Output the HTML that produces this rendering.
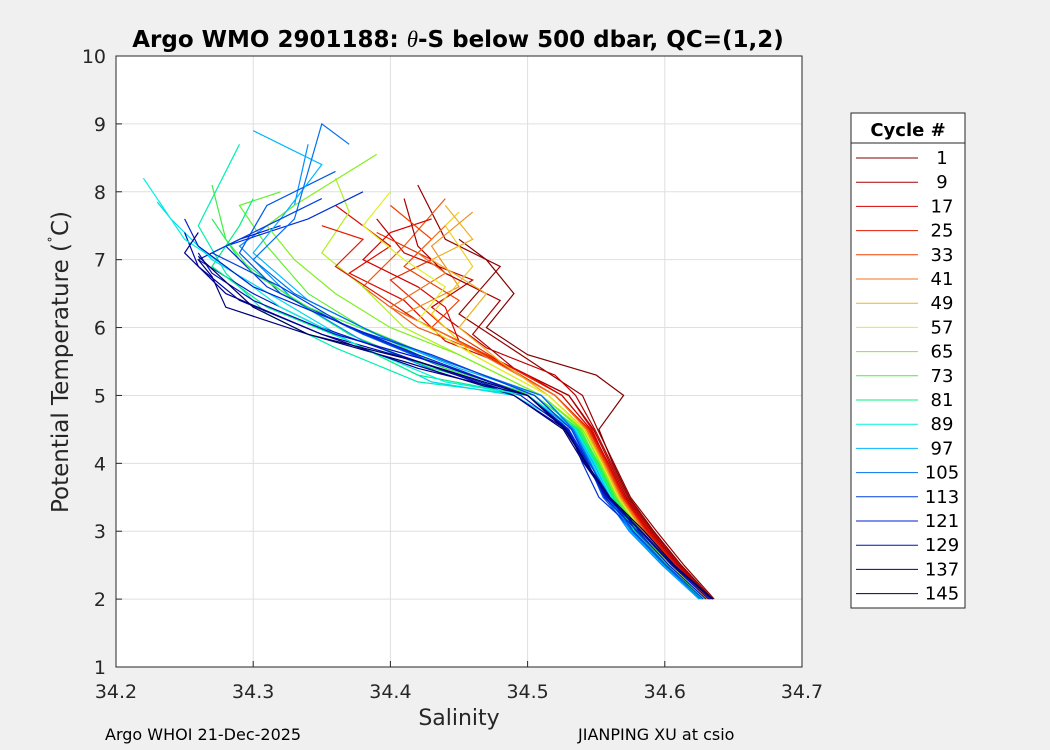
<!DOCTYPE html>
<html><head><meta charset="utf-8"><style>
body{margin:0;background:#f0f0f0;font-family:"Liberation Sans","DejaVu Sans",sans-serif;}
svg{display:block}
</style></head><body>
<svg id="chart" width="1050" height="750" font-family="DejaVu Sans, Liberation Sans, sans-serif">
<rect x="0" y="0" width="1050" height="750" fill="#f0f0f0"/>
<rect x="116" y="56" width="686" height="611" fill="#fff"/>
<g id="grid"></g>
<g id="lines"></g>
<rect x="116" y="56" width="686" height="611" fill="none" stroke="#262626" stroke-width="1"/>
<g id="ticks"></g>
<text x="458" y="47" text-anchor="middle" font-size="23" font-weight="bold" fill="#000">Argo WMO 2901188: <tspan font-style="italic" font-weight="normal" font-family="Liberation Serif, serif">θ</tspan>-S below 500 dbar,  QC=(1,2)</text>
<text x="459" y="725" text-anchor="middle" font-size="22" fill="#262626">Salinity</text>
<text transform="translate(68,362) rotate(-90)" text-anchor="middle" font-size="23" fill="#262626">Potential Temperature (<tspan dy="-8" font-size="14">˚</tspan><tspan dy="8">C)</tspan></text>
<text x="105" y="740" font-size="16" fill="#000">Argo WHOI 21-Dec-2025</text>
<text x="578" y="740" font-size="16" fill="#000">JIANPING XU at csio</text>
<g id="legend">
<rect x="851" y="113" width="114" height="495" fill="#fff" stroke="#262626"/>
<line x1="851" y1="143" x2="965" y2="143" stroke="#262626"/>
<text x="908" y="136" text-anchor="middle" font-size="18" font-weight="bold">Cycle #</text>
</g>
</svg>
<script>
const cycles=[1,9,17,25,33,41,49,57,65,73,81,89,97,105,113,121,129,137,145];
const colors=["#800000","#a80000","#d40000","#e01a00","#f04000","#f07020","#f0b020","#e0f020","#80f020","#40f040","#00f080","#00f0e0","#00b8ff","#0070f0","#0040e0","#0020d0","#0010c0","#00008c","#000060"];
const deepT=[2.0,2.5,3.0,3.5,4.0,4.5,5.0];
const deepS=[
[34.635,34.612,34.592,34.574,34.562,34.552,34.57],
[34.633,34.610,34.590,34.572,34.560,34.548,34.53],
[34.633,34.609,34.588,34.571,34.559,34.546,34.525],
[34.632,34.608,34.587,34.570,34.558,34.545,34.52],
[34.632,34.607,34.586,34.569,34.557,34.544,34.52],
[34.631,34.606,34.585,34.568,34.556,34.543,34.52],
[34.630,34.605,34.584,34.567,34.555,34.542,34.515],
[34.630,34.604,34.583,34.566,34.554,34.541,34.515],
[34.629,34.603,34.582,34.565,34.553,34.540,34.51],
[34.628,34.602,34.580,34.564,34.552,34.538,34.505],
[34.627,34.601,34.578,34.562,34.550,34.536,34.50],
[34.626,34.600,34.576,34.561,34.549,34.535,34.50],
[34.625,34.599,34.575,34.560,34.548,34.534,34.51],
[34.626,34.600,34.576,34.558,34.546,34.533,34.51],
[34.628,34.601,34.577,34.560,34.545,34.532,34.505],
[34.630,34.603,34.580,34.556,34.544,34.530,34.50],
[34.632,34.605,34.582,34.558,34.543,34.529,34.50],
[34.634,34.606,34.583,34.559,34.542,34.528,34.50],
[34.635,34.607,34.585,34.560,34.543,34.527,34.50]];
const upper=[
[[34.55,5.3],[34.5,5.6],[34.47,6.0],[34.49,6.5],[34.47,7.0],[34.45,7.3]],
[[34.49,5.4],[34.46,5.9],[34.48,6.4],[34.44,6.8],[34.42,7.2],[34.41,7.9]],
[[34.5,5.3],[34.45,5.8],[34.44,6.3],[34.42,6.6],[34.38,7.0],[34.40,7.4],[34.43,7.6]],
[[34.46,5.7],[34.42,6.1],[34.39,6.5],[34.36,6.9],[34.38,7.3],[34.35,7.5]],
[[34.47,5.6],[34.43,6.0],[34.45,6.4],[34.41,6.9],[34.43,7.3],[34.40,7.8]],
[[34.44,5.9],[34.40,6.3],[34.44,6.8],[34.42,7.1],[34.44,7.5]],
[[34.48,5.5],[34.45,6.0],[34.47,6.5],[34.43,7.0],[34.46,7.3],[34.44,7.8]],
[[34.46,5.6],[34.42,6.1],[34.44,6.6],[34.41,7.0],[34.38,7.5],[34.40,8.0]],
[[34.45,5.6],[34.40,6.0],[34.36,6.5],[34.33,7.0],[34.31,7.5],[34.33,7.8],[34.39,8.55]],
[[34.44,5.4],[34.39,5.9],[34.34,6.3],[34.30,6.8],[34.28,7.3],[34.27,8.1]],
[[34.42,5.3],[34.37,5.8],[34.31,6.3],[34.27,6.9],[34.29,7.5],[34.30,7.9]],
[[34.44,5.2],[34.38,5.7],[34.32,6.3],[34.28,6.9],[34.25,7.3],[34.22,8.2]],
[[34.45,5.4],[34.40,5.8],[34.34,6.4],[34.30,7.1],[34.32,7.6],[34.35,8.4],[34.30,8.9]],
[[34.44,5.5],[34.39,5.9],[34.33,6.5],[34.30,7.0],[34.33,7.6],[34.35,9.0],[34.37,8.7]],
[[34.43,5.6],[34.37,6.0],[34.32,6.6],[34.27,7.1],[34.30,7.4],[34.35,7.9]],
[[34.42,5.6],[34.36,6.1],[34.30,6.6],[34.26,7.2],[34.25,7.6]],
[[34.43,5.5],[34.36,5.9],[34.30,6.4],[34.27,6.8],[34.26,7.1]],
[[34.42,5.4],[34.35,5.9],[34.28,6.5],[34.25,7.1],[34.26,7.4]],
[[34.42,5.5],[34.34,5.9],[34.30,6.3],[34.26,7.05]]];
const cycles2=[5,13,21,29,37,45,53,61,69,77,85,93,101,109,117,125,133,141];
const colors2=["#940000","#c00000","#dc0c00","#e82e00","#f05810","#f09020","#ecd020","#b0f020","#60f030","#20f060","#00f0b0","#00d8f0","#0090ff","#0058e8","#0030d8","#0018c8","#0008a8","#000078"];
const deepS2=[
[34.636,34.614,34.594,34.575,34.563,34.551,34.54],
[34.634,34.611,34.591,34.573,34.561,34.549,34.535],
[34.633,34.610,34.589,34.571,34.558,34.547,34.53],
[34.632,34.609,34.588,34.570,34.557,34.546,34.525],
[34.631,34.608,34.587,34.569,34.556,34.545,34.52],
[34.630,34.606,34.585,34.567,34.555,34.543,34.52],
[34.630,34.605,34.584,34.566,34.554,34.542,34.515],
[34.629,34.604,34.583,34.565,34.553,34.541,34.51],
[34.628,34.603,34.581,34.564,34.551,34.539,34.51],
[34.627,34.601,34.579,34.563,34.551,34.537,34.505],
[34.626,34.600,34.577,34.561,34.549,34.536,34.50],
[34.625,34.599,34.575,34.559,34.547,34.534,34.49],
[34.625,34.598,34.574,34.557,34.546,34.533,34.50],
[34.627,34.600,34.576,34.555,34.544,34.532,34.505],
[34.629,34.602,34.579,34.552,34.540,34.530,34.50],
[34.631,34.604,34.581,34.557,34.543,34.529,34.495],
[34.633,34.606,34.583,34.558,34.542,34.528,34.49],
[34.635,34.607,34.584,34.559,34.541,34.526,34.49]];
const upper2=[
[[34.51,5.4],[34.48,5.8],[34.45,6.2],[34.48,6.9],[34.44,7.3],[34.42,8.1]],
[[34.52,5.3],[34.47,5.7],[34.43,6.3],[34.46,6.7],[34.41,7.1],[34.39,7.6]],
[[34.49,5.4],[34.44,5.8],[34.41,6.4],[34.37,6.8],[34.40,7.2],[34.36,7.8]],
[[34.48,5.5],[34.44,6.0],[34.40,6.7],[34.43,7.0],[34.39,7.4]],
[[34.47,5.6],[34.42,6.0],[34.38,6.6],[34.41,7.2],[34.44,7.9]],
[[34.46,5.7],[34.41,6.2],[34.45,6.6],[34.43,7.2],[34.46,7.7]],
[[34.46,5.6],[34.43,6.2],[34.46,6.9],[34.44,7.5],[34.45,7.7]],
[[34.45,5.6],[34.41,6.0],[34.38,6.6],[34.35,7.1],[34.37,7.7],[34.36,8.2]],
[[34.44,5.5],[34.38,6.0],[34.34,6.5],[34.31,7.2],[34.29,7.8],[34.32,8.0]],
[[34.43,5.4],[34.37,5.9],[34.33,6.4],[34.29,7.0],[34.27,7.6]],
[[34.42,5.2],[34.36,5.7],[34.31,6.2],[34.28,6.8],[34.26,7.5],[34.29,8.7]],
[[34.43,5.2],[34.37,5.8],[34.32,6.4],[34.27,7.0],[34.24,7.6],[34.23,7.85]],
[[34.44,5.3],[34.38,5.8],[34.33,6.4],[34.29,7.2],[34.33,7.8],[34.34,8.7]],
[[34.44,5.4],[34.38,5.9],[34.32,6.5],[34.29,7.1],[34.31,7.8],[34.36,8.3]],
[[34.43,5.5],[34.37,6.0],[34.31,6.6],[34.28,7.2],[34.34,7.6],[34.38,8.0]],
[[34.42,5.5],[34.35,6.0],[34.30,6.5],[34.26,7.0],[34.29,7.3],[34.32,7.5]],
[[34.42,5.5],[34.35,5.9],[34.29,6.4],[34.26,6.9],[34.25,7.4]],
[[34.41,5.5],[34.34,5.9],[34.28,6.3],[34.27,6.75],[34.26,7.0]]];
const xTicks=[34.2,34.3,34.4,34.5,34.6,34.7];
const yTicks=[1,2,3,4,5,6,7,8,9,10];
const X0=116,X1=802,Y0=667,Y1=56;
const xs=s=>X0+(s-34.2)/(0.5)*(X1-X0);
const ys=t=>Y0-(t-1)/9*(Y0-Y1);
const NS="http://www.w3.org/2000/svg";
function mk(tag,attrs,parent){const e=document.createElementNS(NS,tag);for(const k in attrs)e.setAttribute(k,attrs[k]);parent.appendChild(e);return e;}
const grid=document.getElementById('grid'),ticks=document.getElementById('ticks'),lines=document.getElementById('lines'),leg=document.getElementById('legend');
xTicks.forEach(v=>{const x=xs(v);
 const g=mk('line',{x1:x,x2:x,y1:Y1,y2:Y0,stroke:'#dfdfdf'},grid);
 
 
 const t=mk('line',{x1:x,x2:x,y1:Y0,y2:Y0-6,stroke:'#262626'},ticks);
 
 
 const l=mk('text',{x:x,y:698,'text-anchor':'middle','font-size':19,fill:'#262626'},ticks);l.textContent=v.toFixed(1);
 
 });
yTicks.forEach(v=>{const y=ys(v);
 const g=mk('line',{x1:X0,x2:X1,y1:y,y2:y,stroke:'#dfdfdf'},grid);
 
 
 const t=mk('line',{x1:X0,x2:X0+6,y1:y,y2:y,stroke:'#262626'},ticks);
 
 
 const l=mk('text',{x:106,y:y+7,'text-anchor':'end','font-size':19,fill:'#262626'},ticks);l.textContent=v;
 
 });
function drawProfile(c,col,dS,up){
 const pts=deepT.map((t,j)=>[dS[j],t]).concat(up);
 const p=mk('polyline',{points:pts.map(q=>xs(q[0]).toFixed(1)+','+ys(q[1]).toFixed(1)).join(' '),fill:'none',stroke:col,'stroke-width':1.2},lines);
 
 
}
cycles2.forEach((c,i)=>drawProfile(c,colors2[i],deepS2[i],upper2[i]));
cycles.forEach((c,i)=>{
 drawProfile(c,colors[i],deepS[i],upper[i]);
 const y=158+i*24.2;
 const ll=mk('line',{x1:856,x2:918,y1:y,y2:y,stroke:colors[i]},leg);
 
 
 const lt=mk('text',{x:942,y:y+6,'text-anchor':'middle','font-size':18,fill:'#000'},leg);lt.textContent=c;
 
 
});
</script>
</body></html>
